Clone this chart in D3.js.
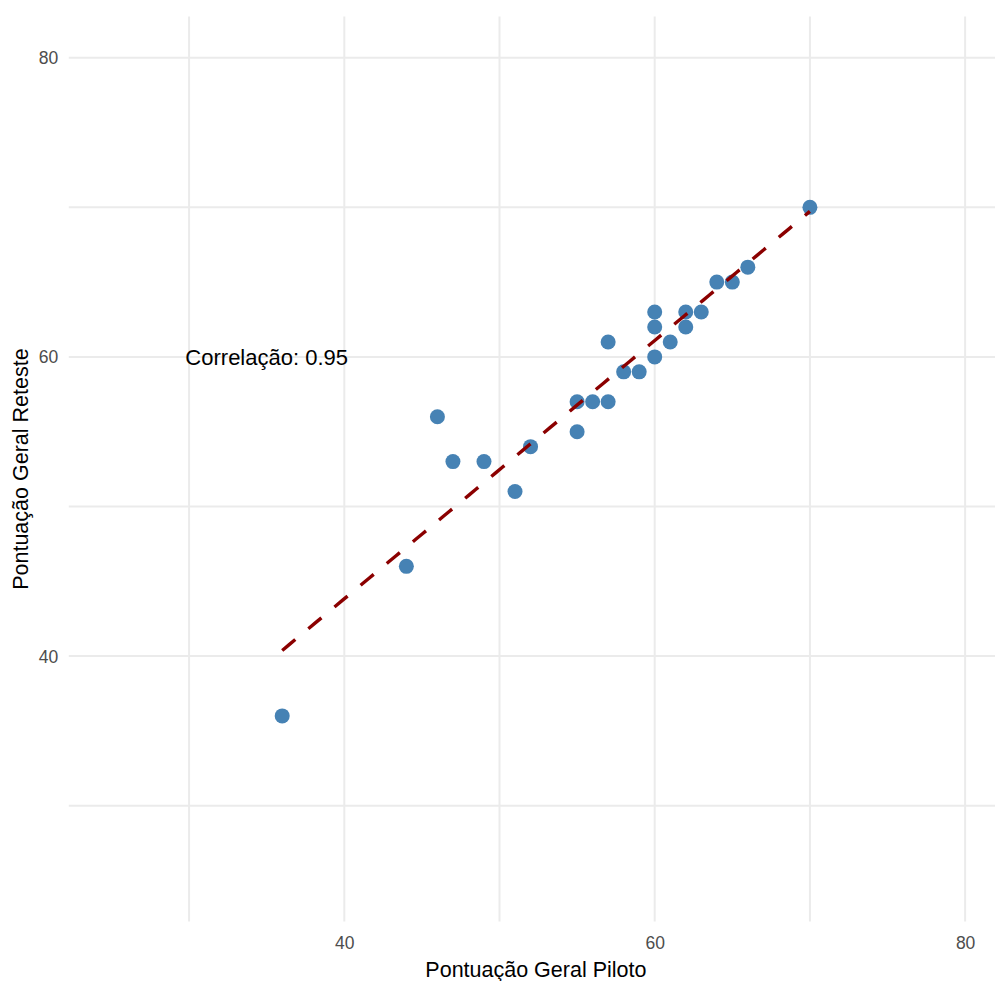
<!DOCTYPE html>
<html>
<head>
<meta charset="utf-8">
<script src="https://cdn.jsdelivr.net/npm/d3@7"></script>
<style>
  body { margin: 0; background: #fff; }
  svg { display: block; font-family: "Liberation Sans", Arial, sans-serif; }
</style>
</head>
<body>
<div id="chart_area"></div>
<script>
// pontuações
var piloto  = [36, 44, 46, 47, 49, 51, 52, 55, 55, 56, 57, 57, 58, 59, 60, 60, 60, 61, 62, 62, 63, 64, 65, 66, 70];
var reteste = [36, 46, 56, 53, 53, 51, 54, 57, 55, 57, 61, 57, 59, 59, 63, 62, 60, 61, 63, 62, 63, 65, 65, 66, 70];
var axis_limits = [25, 80];
var major_ticks = [40, 60, 80];
var grid_values = [30, 40, 50, 60, 70, 80];
var corr_label = "Correlação: 0.95";
var corr_pos = {x: 35, y: 60};

var frame_width = 995;
var frame_height = 981;

var frame = d3.select("#chart_area").append("svg")
    .attr("width", frame_width)
    .attr("height", frame_height);

// expansão de 5% como no ggplot
var span = axis_limits[1] - axis_limits[0];
var dom = [axis_limits[0] - 0.05 * span, axis_limits[1] + 0.05 * span];

var xScale = d3.scaleLinear().domain(dom).range([68.8, 1007.8]);
var yScale = d3.scaleLinear().domain(dom).range([921.6, 16.6]);

var points = piloto.map(function(d, i) { return {x: d, y: reteste[i]}; });

// grelha
var grid = frame.append("g").attr("class", "grid");
grid.selectAll("line.v")
    .data(grid_values)
    .enter().append("line")
    .attr("class", "v")
    .attr("x1", function(d) { return xScale(d); })
    .attr("x2", function(d) { return xScale(d); })
    .attr("y1", yScale.range()[0])
    .attr("y2", yScale.range()[1])
    .style("stroke", "#EBEBEB")
    .style("stroke-width", 2);
grid.selectAll("line.h")
    .data(grid_values)
    .enter().append("line")
    .attr("class", "h")
    .attr("y1", function(d) { return yScale(d); })
    .attr("y2", function(d) { return yScale(d); })
    .attr("x1", xScale.range()[0])
    .attr("x2", xScale.range()[1])
    .style("stroke", "#EBEBEB")
    .style("stroke-width", 2);

// eixos (só rótulos, tema minimal)
var xAxis = d3.axisBottom(xScale).tickValues(major_ticks).tickSize(0).tickPadding(0);
var yAxis = d3.axisLeft(yScale).tickValues(major_ticks).tickSize(0).tickPadding(0);

var gx = frame.append("g")
    .attr("class", "x axis")
    .attr("transform", "translate(0," + yScale.range()[0] + ")")
    .call(xAxis);
gx.select(".domain").remove();
gx.selectAll("text")
    .attr("y", 15)
    .attr("dy", "0.71em")
    .style("font-size", "17.5px")
    .style("font-family", "Liberation Sans, Arial, sans-serif")
    .style("fill", "#4D4D4D");

var gy = frame.append("g")
    .attr("class", "y axis")
    .attr("transform", "translate(" + xScale.range()[0] + ",0)")
    .call(yAxis);
gy.select(".domain").remove();
gy.selectAll("text")
    .attr("x", -10.5)
    .attr("dy", "0.34em")
    .style("font-size", "17.5px")
    .style("font-family", "Liberation Sans, Arial, sans-serif")
    .style("fill", "#4D4D4D");

// pontos
frame.append("g").attr("class", "data_canvas")
    .selectAll("circle")
    .data(points)
    .enter().append("circle")
    .attr("cx", function(d) { return xScale(d.x); })
    .attr("cy", function(d) { return yScale(d.y); })
    .attr("r", 7.5)
    .style("fill", "#4682B4");

// recta de regressão (mínimos quadrados)
var mx = d3.mean(piloto), my = d3.mean(reteste);
var sxy = d3.sum(points, function(d) { return (d.x - mx) * (d.y - my); });
var sxx = d3.sum(points, function(d) { return (d.x - mx) * (d.x - mx); });
var slope = sxy / sxx;
var intercept = my - slope * mx;
var xr = d3.extent(piloto);
var fit = d3.range(0, 80).map(function(i) {
    var x = xr[0] + (xr[1] - xr[0]) * i / 79;
    return {x: x, y: intercept + slope * x};
});
var line = d3.line()
    .x(function(d) { return xScale(d.x); })
    .y(function(d) { return yScale(d.y); });
frame.append("path")
    .datum(fit)
    .attr("d", line)
    .style("fill", "none")
    .style("stroke", "#8B0000")
    .style("stroke-width", 3.4)
    .style("stroke-dasharray", "17,17");

// anotação
frame.append("text")
    .attr("x", xScale(corr_pos.x))
    .attr("y", yScale(corr_pos.y))
    .attr("dy", "0.35em")
    .attr("text-anchor", "middle")
    .style("font-size", "22px")
    .style("fill", "#000")
    .text(corr_label);

// títulos dos eixos
frame.append("text")
    .attr("x", (xScale.range()[0] + 995) / 2 + 4)
    .attr("y", 977)
    .attr("text-anchor", "middle")
    .style("font-size", "21.5px")
    .style("fill", "#000")
    .text("Pontuação Geral Piloto");

frame.append("text")
    .attr("transform", "translate(28," + (yScale.range()[0] + yScale.range()[1]) / 2 + ") rotate(-90)")
    .attr("text-anchor", "middle")
    .style("font-size", "21.5px")
    .style("fill", "#000")
    .text("Pontuação Geral Reteste");
</script>
</body>
</html>
